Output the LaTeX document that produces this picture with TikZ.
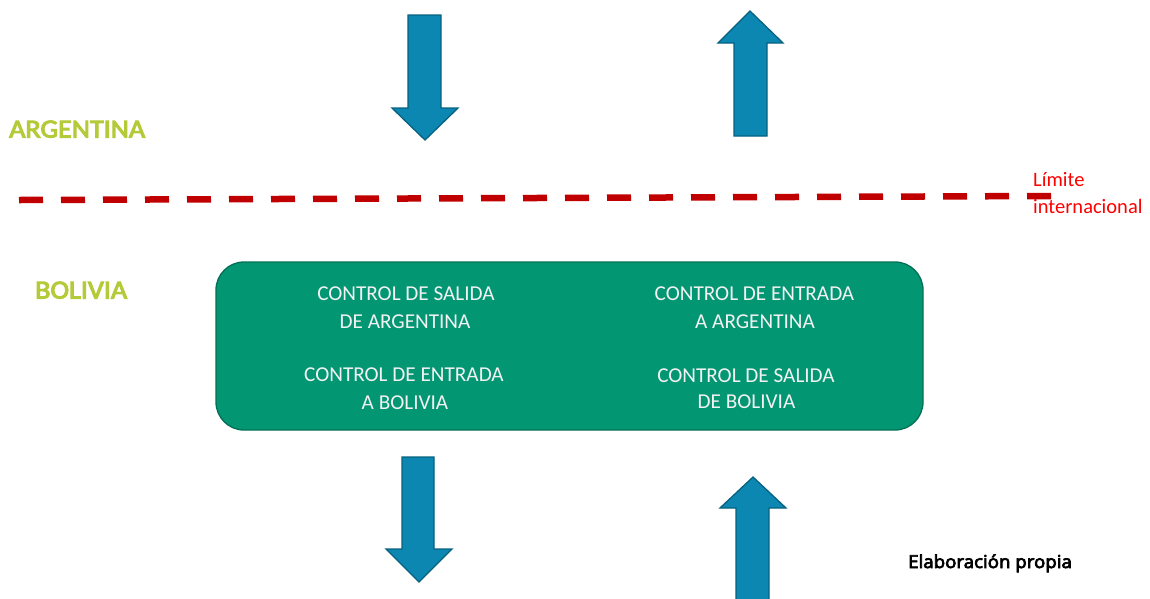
\documentclass[tikz,border=0pt]{standalone}
\usepackage{fontspec}
\setmainfont{Carlito}
\newfontfamily\countryfont{Carlito}[FakeBold=4,FakeStretch=1.08]
\newfontfamily\notefont{Open Sans}[FakeBold=4,FakeStretch=1.05]
\definecolor{arrfill}{RGB}{11,135,178}
\definecolor{arrdraw}{RGB}{7,98,128}
\definecolor{boxfill}{RGB}{3,150,115}
\definecolor{boxdraw}{RGB}{2,112,86}
\definecolor{country}{RGB}{180,202,56}
\definecolor{border}{RGB}{192,0,0}
\definecolor{lim}{RGB}{255,0,0}
\tikzset{
  blockarrow/.style={fill=arrfill,draw=arrdraw,line width=1.3pt,line join=miter},
  boxtxt/.style={anchor=base,text=white!95!black,font=\fontsize{21.2}{24}\selectfont,inner sep=0pt},
  countrytxt/.style={anchor=base west,text=country,font=\countryfont\fontsize{26}{30}\selectfont,inner sep=0pt},
  limtxt/.style={anchor=base west,text=lim,font=\fontsize{20.5}{24}\selectfont,inner sep=0pt},
}
\begin{document}
\begin{tikzpicture}[x=1pt,y=-1pt]
\useasboundingbox (0,0) rectangle (1150,598);
% top arrows
\draw[blockarrow] (408,15) -- (441,15) -- (441,108) -- (458,108) -- (425,140) -- (392,108) -- (408,108) -- cycle;
\draw[blockarrow] (750,11) -- (783,43) -- (767,43) -- (767,136) -- (734,136) -- (734,43) -- (718,43) -- cycle;
% bottom arrows
\draw[blockarrow] (402,457) -- (434,457) -- (434,549) -- (452,549) -- (419,582) -- (386,549) -- (402,549) -- cycle;
\draw[blockarrow] (753,477) -- (786,508) -- (769,508) -- (769,600) -- (736,600) -- (736,508) -- (720,508) -- cycle;
% border line
\coordinate (bl) at (19,200);
\coordinate (br) at (1051,196);
\draw[border,line width=6.5pt,dash pattern=on 24pt off 18pt] (bl) -- (br);
\node[limtxt] (lim1) at (1033,186) {Límite};
\node[limtxt] (lim2) at (1033,213) {internacional};
% countries
\node[countrytxt] (arg) at (9,137.5) {ARGENTINA};
\node[countrytxt] (bol) at (35,298.5) {BOLIVIA};
% box
\draw[fill=boxfill,draw=boxdraw,line width=1.3pt,rounded corners=28pt] (216,262) rectangle (923,430);
\node[boxtxt] (a1) at (406,300) {CONTROL DE SALIDA};
\node[boxtxt] (a2) at (405,328) {DE ARGENTINA};
\node[boxtxt] (b1) at (404,381) {CONTROL DE ENTRADA};
\node[boxtxt] (b2) at (405,409) {A BOLIVIA};
\node[boxtxt] (c1) at (754.5,300) {CONTROL DE ENTRADA};
\node[boxtxt] (c2) at (755,328) {A ARGENTINA};
\node[boxtxt] (d1) at (746,382) {CONTROL DE SALIDA};
\node[boxtxt] (d2) at (746.5,408) {DE BOLIVIA};
% note
\node[anchor=base west,inner sep=0pt,font=\notefont\fontsize{17.8}{20}\selectfont] (note) at (908,568) {Elaboración propia};
\end{tikzpicture}
\end{document}
